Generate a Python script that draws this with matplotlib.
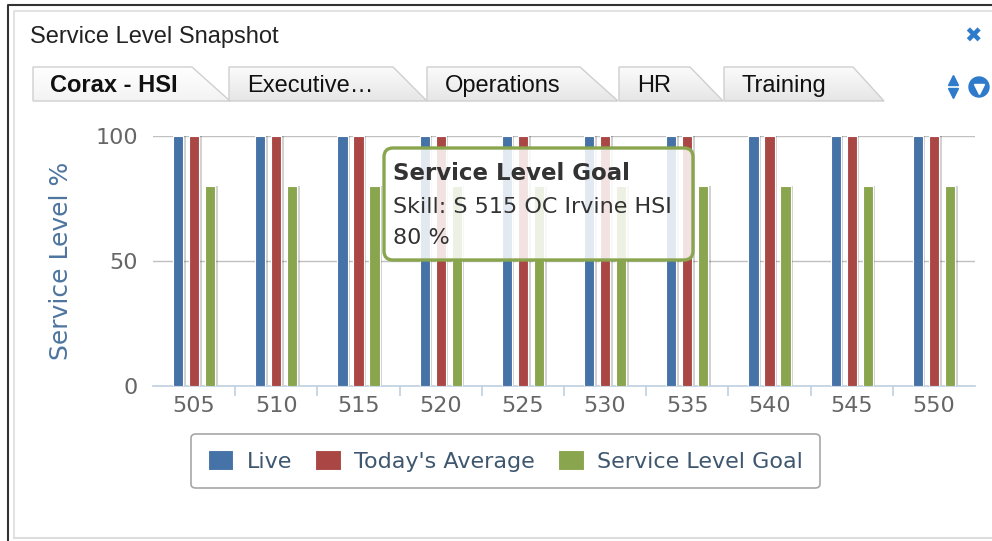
import matplotlib.pyplot as plt
import numpy as np
from matplotlib.patches import FancyBboxPatch, Polygon, Circle

# Dados do gráfico
skills = ["505", "510", "515", "520", "525", "530", "535", "540", "545", "550"]
live = [100, 100, 100, 100, 100, 100, 100, 100, 100, 100]
todays_avg = [100, 100, 100, 100, 100, 100, 100, 100, 100, 100]
goal = [80, 80, 80, 80, 80, 80, 80, 80, 80, 80]
series_names = ["Live", "Today's Average", "Service Level Goal"]
colors = ["#4572A7", "#AA4643", "#89A54E"]
yticks = [0, 50, 100]

tabs = ["Corax - HSI", "Executive…", "Operations", "HR", "Training"]
tooltip_lines = ["Service Level Goal", "Skill: S 515 OC Irvine HSI", "80 %"]

W, H = 992, 541
fig = plt.figure(figsize=(W / 100, H / 100), dpi=100)
fig.patch.set_facecolor("white")

# eixo principal (posição em pixels convertida)
ax = fig.add_axes([153 / W, 1 - 386 / H, 822 / W, 250 / H])
x = np.arange(len(skills))
bw = 0.125
off = 0.195
for i, (vals, c) in enumerate(zip([live, todays_avg, goal], colors)):
    pos = x + (i - 1) * off
    # sombra
    ax.bar(pos + 0.03, vals, width=bw, color="#000000", alpha=0.18, zorder=2)
    ax.bar(pos, vals, width=bw, color=c, edgecolor="white", linewidth=0.8,
           zorder=3, label=series_names[i])

ax.set_xlim(-0.5, len(skills) - 0.5)
ax.set_ylim(0, 100)
ax.set_yticks(yticks)
ax.set_yticklabels([str(v) for v in yticks])
ax.yaxis.grid(True, color="#C0C0C0", linewidth=1)
ax.set_axisbelow(True)
for s in ["top", "right", "left"]:
    ax.spines[s].set_visible(False)
ax.spines["bottom"].set_color("#C0D0E0")
ax.spines["bottom"].set_linewidth(1.2)
ax.tick_params(axis="y", length=0, labelsize=16, labelcolor="#666666", pad=11)
ax.set_xticks(np.arange(0.5, len(skills) - 0.5, 1.0))
ax.set_xticklabels([])
ax.set_xticks(x, minor=True)
ax.set_xticklabels(skills, minor=True)
ax.tick_params(axis="x", which="major", length=7, color="#C0D0E0", width=1.2)
ax.tick_params(axis="x", which="minor", length=0, labelsize=16,
               labelcolor="#666666", pad=7)
ax.set_ylabel("Service Level %", fontsize=18, color="#4D759E", labelpad=16)

# legenda
leg = ax.legend(loc="center", bbox_to_anchor=(505.5 / W, 1 - 461 / H),
                bbox_transform=fig.transFigure, ncol=3, fontsize=16,
                frameon=True, fancybox=True, edgecolor="#909090",
                handlelength=1.15, handleheight=1.0, handletextpad=0.6,
                columnspacing=1.05, borderpad=0.75)
for t in leg.get_texts():
    t.set_color("#3E576F")
leg.get_frame().set_linewidth(1.2)

# camada de "moldura" em pixels
ov = fig.add_axes([0, 0, 1, 1], zorder=5)
ov.set_xlim(0, W)
ov.set_ylim(H, 0)
ov.axis("off")
ov.patch.set_alpha(0)

ov.plot([8, 8, W], [H, 5, 5], color="#333333", lw=1.5)
ov.plot([14, 14, W], [538, 11, 11], color="#dddddd", lw=1.2)
ov.plot([14, W], [537.5, 537.5], color="#dddddd", lw=1.5)

ov.text(30, 37, "Service Level Snapshot", fontsize=17, family="Liberation Sans",
        color="#222222", va="center", ha="left")

# abas (com gradiente)
grad = np.linspace(0, 1, 64).reshape(-1, 1)
tab_geo = [(33, 192, 230), (229, 393, 427), (427, 580, 618), (619, 690, 723), (724, 853, 884)]
for k, (lab, (x0, x1, x2)) in enumerate(zip(tabs, tab_geo)):
    active = k == 0
    poly = Polygon([(x0, 101), (x0, 67), (x1, 67), (x2, 101)], closed=True,
                   facecolor="none", edgecolor="#cfcfcf", lw=1, zorder=3)
    ov.add_patch(poly)
    cmap = plt.matplotlib.colors.LinearSegmentedColormap.from_list(
        "t", ["#ffffff", "#f3f3f3"] if active else ["#fbfbfb", "#e6e6e6"])
    im = ov.imshow(grad, extent=(x0, x2, 101, 67), cmap=cmap, aspect="auto",
                   zorder=2, origin="upper")
    im.set_clip_path(poly)
    ov.text(x0 + (17 if active else 18), 86, lab, fontsize=17,
            family="Liberation Sans", fontweight="bold" if active else "normal",
            color="#111111", va="center", ha="left", zorder=4)
ov.set_xlim(0, W)
ov.set_ylim(H, 0)
ov.set_aspect("auto")

# ícones
ov.text(973, 37, "✖", fontsize=15, color="#2E7BCB", ha="center", va="center",
        family="DejaVu Sans")
ov.plot([953], [80], marker="^", ms=7, color="#2E7BCB", ls="none")
ov.plot([953], [93], marker="v", ms=7, color="#2E7BCB", ls="none")
ov.add_patch(Circle((979, 87), 10, color="#2E7BCB"))
ov.plot([979], [88.5], marker="v", ms=7, color="white", ls="none")

# tooltip
tip = FancyBboxPatch((384, 148), 309, 112, boxstyle="round,pad=0,rounding_size=9",
                     facecolor="white", alpha=0.85, edgecolor="none")
ov.add_patch(tip)
tip_border = FancyBboxPatch((384, 148), 309, 112, boxstyle="round,pad=0,rounding_size=9",
                            facecolor="none", edgecolor="#89A54E", lw=2.4)
ov.add_patch(tip_border)
ov.text(393, 174, tooltip_lines[0], fontsize=16.5, fontweight="bold", color="#333333",
        va="center", ha="left")
ov.text(393, 207, tooltip_lines[1], fontsize=16, color="#333333", va="center", ha="left")
ov.text(393, 238, tooltip_lines[2], fontsize=16, color="#333333", va="center", ha="left")

fig.savefig("out.png", dpi=100)
